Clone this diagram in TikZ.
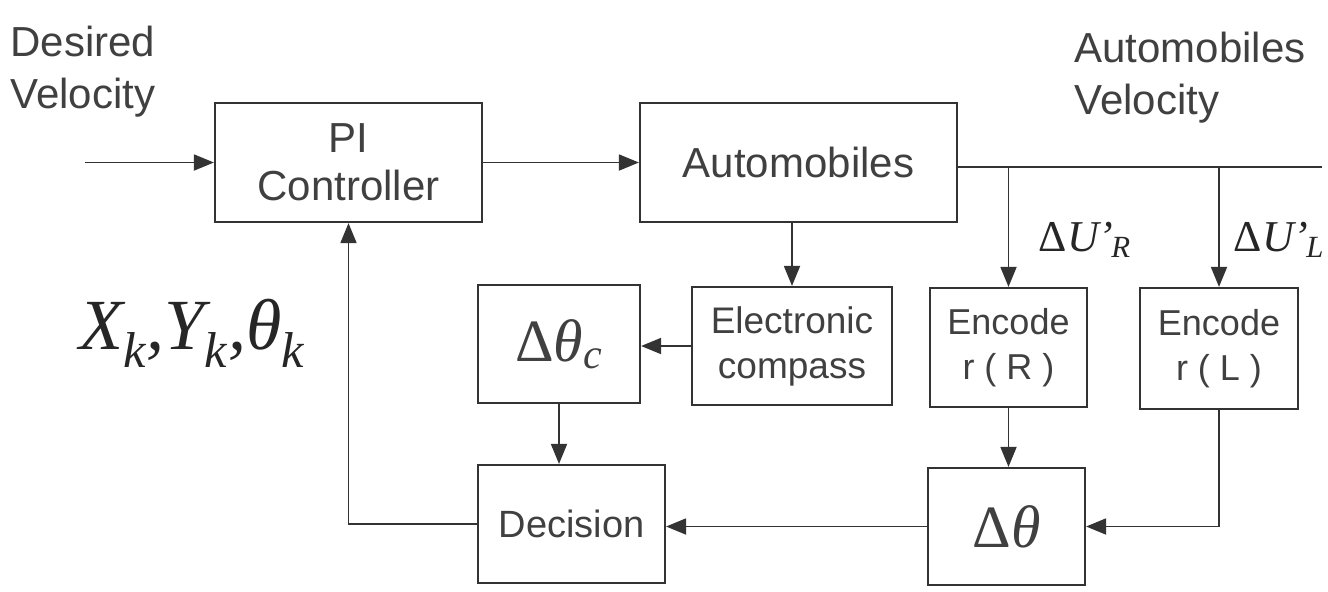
\documentclass[tikz,border=0pt]{standalone}
\usepackage{fontspec}
\setmainfont{Liberation Sans}
\newfontfamily\tms{Liberation Serif}
\usetikzlibrary{arrows.meta}
\begin{document}
\begin{tikzpicture}[x=0.5pt,y=-0.5pt,
  blk/.style={draw=black!80, line width=1.1pt, inner sep=0pt, align=center,
    font=\fontsize{19}{23}\selectfont, text=black!75},
  con/.style={draw=black!80, line width=0.9pt, -{Triangle[length=10pt,width=8pt]}},
  ln/.style={draw=black!80, line width=0.9pt},
  lbl/.style={font=\fontsize{21}{26}\selectfont, text=black!75, align=left, inner sep=0pt},
  mth/.style={inner sep=0pt, text=black!85}]
\clip (0,0) rectangle (1328,591);
\fill[white] (0,0) rectangle (1328,591);
% blocks
\node[blk, minimum width=133.5pt, minimum height=59.5pt, font=\fontsize{21}{24}\selectfont] (pi) at (348.5,162.5) {PI\\Controller};
\node[blk, minimum width=158.5pt, minimum height=59.5pt, font=\fontsize{21}{24}\selectfont] (auto) at (798.5,162.5) {Automobiles};
\node[blk, minimum width=100pt, minimum height=59pt, font=\fontsize{18.5}{22.5}\selectfont] (comp) at (792,346) {Electronic\\compass};
\node[blk, minimum width=81pt, minimum height=59pt] (dthc) at (559,344) {\tms\fontsize{30}{34}\selectfont Δ{\itshape θ\textsubscript{c}}};
\node[blk, minimum width=93.5pt, minimum height=59pt] (dec) at (571.5,524) {Decision};
\node[blk, minimum width=78.5pt, minimum height=59.5pt, font=\fontsize{18}{22.5}\selectfont] (encR) at (1008.5,347.5) {Encode\\r ( R )};
\node[blk, minimum width=79pt, minimum height=60.5pt, font=\fontsize{18}{22.5}\selectfont] (encL) at (1219,348.5) {Encode\\r ( L )};
\node[blk, minimum width=78.5pt, minimum height=58.5pt] (dth) at (1006.5,526.5) {\tms\fontsize{30}{34}\selectfont Δ{\itshape θ}};
% labels
\node[lbl, anchor=west] (dv) at (10,72) {Desired\\Velocity};
\node[lbl, anchor=west] (av) at (1074,78) {Automobiles\\Velocity};
\node[mth] (xyt) at (192,333) {\tms\itshape\fontsize{36}{40}\selectfont X\textsubscript{k},Y\textsubscript{k},θ\textsubscript{k}};
\node[mth] (dur) at (1085,240) {\tms\fontsize{22}{26}\selectfont Δ{\itshape U’\kern-1pt\textsubscript{R}}};
\node[mth, anchor=east] (dul) at (1325,240) {\tms\fontsize{22}{26}\selectfont Δ{\itshape U’\kern-1pt\textsubscript{L}}};
% coordinates
\coordinate (in) at (85,162.5);
\coordinate (out) at (1322,167);
\coordinate (bR) at (1008.5,167);
\coordinate (bL) at (1219,167);
% connectors
\draw[con] (in) -- (pi.west);
\draw[con] (pi.east) -- (auto.west);
\draw[ln] (auto.east |- out) -- (out);
\draw[con] (bR) -- (encR.north);
\draw[con] (bL) -- (encL.north);
\draw[con] (comp.north |- auto.south) -- (comp.north);
\draw[con] (comp.west) -- (comp.west -| dthc.east);
\draw[con] (dthc.south) -- (dthc.south |- dec.north);
\draw[con] (encR.south) -- (encR.south |- dth.north);
\draw[con] (encL.south) |- (dth.east);
\draw[con] (dth.west) -- (dth.west -| dec.east);
\draw[con] (dec.west) -| (pi.south);
\end{tikzpicture}
\end{document}
